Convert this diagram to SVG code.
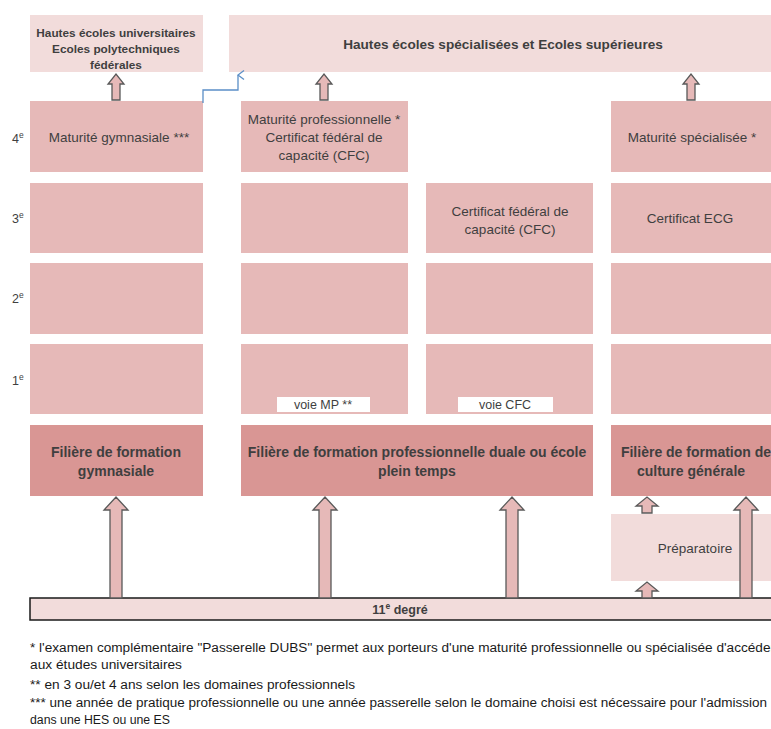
<svg xmlns="http://www.w3.org/2000/svg" width="771" height="729" viewBox="0 0 771 729">
<defs>
<style>
.top{fill:#f2dcdb}
.row{fill:#e6b9b8}
.fil{fill:#d99694}
.t{font-family:"Liberation Sans",Arial,sans-serif;fill:#3f3f3f;text-anchor:middle}
.r{font-size:13.5px}
.f{font-size:14px;font-weight:bold}
.b{font-weight:bold}
.lab{font-family:"Liberation Sans",Arial,sans-serif;fill:#3f3f3f;font-size:12.5px}
.fn{font-family:"Liberation Sans",Arial,sans-serif;fill:#1a1a1a;font-size:12.5px}
.arr{fill:#e6b9b8;stroke:#595959;stroke-width:1.3;stroke-linejoin:miter}
.voie{fill:#ffffff}
</style>
<marker id="blueHead" viewBox="0 0 12 12" refX="6" refY="1" markerWidth="12" markerHeight="12" markerUnits="userSpaceOnUse" orient="auto-start-reverse">
<path d="M1.5,7 L6,1 L10.5,7" fill="none" stroke="#5b8fc7" stroke-width="1.3"/>
</marker>
</defs>
<rect width="771" height="729" fill="#ffffff"/>

<g id="hes-universitaires">
<rect class="top" x="30" y="15" width="173" height="57"/>
<text class="t b" font-size="11.8" x="116" y="37">Hautes écoles universitaires</text>
<text class="t b" font-size="11.8" x="116" y="53">Ecoles polytechniques</text>
<text class="t b" font-size="11.8" x="116" y="69">fédérales</text>
</g>
<g id="hes-specialisees">
<rect class="top" x="229" y="15" width="542" height="57"/>
<text class="t b" font-size="13.6" x="503" y="49">Hautes écoles spécialisées et Ecoles supérieures</text>
</g>

<g id="annees">
<text class="lab" x="12" y="143">4<tspan font-size="8.5" dy="-5">e</tspan></text>
<text class="lab" x="12" y="223">3<tspan font-size="8.5" dy="-5">e</tspan></text>
<text class="lab" x="12" y="303">2<tspan font-size="8.5" dy="-5">e</tspan></text>
<text class="lab" x="12" y="385">1<tspan font-size="8.5" dy="-5">e</tspan></text>
</g>

<g id="col1">
<g id="maturite-gymnasiale">
<rect class="row" x="30" y="101" width="173" height="71"/>
<text class="t r" x="119" y="142">Maturité gymnasiale ***</text>
</g>
<rect class="row" x="30" y="183" width="173" height="70"/>
<rect class="row" x="30" y="263" width="173" height="71"/>
<rect class="row" x="30" y="344" width="173" height="70"/>
</g>

<g id="col2">
<g id="maturite-pro">
<rect class="row" x="241" y="101" width="167" height="71"/>
<text class="t r" x="324" y="124">Maturité professionnelle *</text>
<text class="t r" x="324" y="142">Certificat fédéral de</text>
<text class="t r" x="324" y="160">capacité (CFC)</text>
</g>
<rect class="row" x="241" y="183" width="167" height="70"/>
<rect class="row" x="241" y="263" width="167" height="71"/>
<g id="voie-mp">
<rect class="row" x="241" y="344" width="167" height="70"/>
<rect class="voie" x="277" y="397" width="93" height="15"/>
<text class="t" font-size="12.5" x="323" y="409">voie MP **</text>
</g>
</g>

<g id="col3">
<g id="cfc">
<rect class="row" x="426" y="183" width="167" height="70"/>
<text class="t r" x="510" y="216">Certificat fédéral de</text>
<text class="t r" x="510" y="234">capacité (CFC)</text>
</g>
<rect class="row" x="426" y="263" width="167" height="71"/>
<g id="voie-cfc">
<rect class="row" x="426" y="344" width="167" height="70"/>
<rect class="voie" x="458" y="397" width="95" height="15"/>
<text class="t" font-size="12.5" x="505" y="409">voie CFC</text>
</g>
</g>

<g id="col4">
<g id="maturite-specialisee">
<rect class="row" x="611" y="101" width="160" height="71"/>
<text class="t r" x="692" y="142">Maturité spécialisée *</text>
</g>
<g id="certificat-ecg">
<rect class="row" x="611" y="183" width="160" height="70"/>
<text class="t r" x="690" y="223">Certificat ECG</text>
</g>
<rect class="row" x="611" y="263" width="160" height="71"/>
<rect class="row" x="611" y="344" width="160" height="70"/>
</g>

<g id="filiere-gymnasiale">
<rect class="fil" x="30" y="425" width="173" height="71"/>
<text class="t f" x="116" y="457">Filière de formation</text>
<text class="t f" x="116" y="476">gymnasiale</text>
</g>
<g id="filiere-professionnelle">
<rect class="fil" x="241" y="425" width="352" height="71"/>
<text class="t f" x="417" y="457">Filière de formation professionnelle duale ou école</text>
<text class="t f" x="417" y="476">plein temps</text>
</g>
<g id="filiere-culture-generale">
<rect class="fil" x="611" y="425" width="160" height="71"/>
<text class="t f" x="696" y="457">Filière de formation de</text>
<text class="t f" x="691" y="476">culture générale</text>
</g>

<g id="preparatoire">
<rect class="top" x="611" y="514" width="160" height="67"/>
<text class="t" font-size="13.5" x="695" y="553">Préparatoire</text>
</g>

<g id="degre-11">
<rect x="30" y="598" width="745" height="22" fill="#f2dcdb" stroke="#1a1a1a" stroke-width="1.5"/>
<text class="t b" font-size="12.5" x="400" y="614" fill="#1a1a1a">11<tspan font-size="8.5" dy="-5">e</tspan><tspan dy="5"> degré</tspan></text>
</g>

<g id="connecteurs">
<path class="arr" d="M112,100 L112,84 L108,84 L116,74 L124,84 L120,84 L120,100 Z"/>
<path class="arr" d="M320,100 L320,84 L316,84 L324,74 L332,84 L328,84 L328,100 Z"/>
<path class="arr" d="M687,100 L687,84 L683,84 L691,74 L699,84 L695,84 L695,100 Z"/>
<path d="M203,103 L203,90 L238,90 L238,75" fill="none" stroke="#5b8fc7" stroke-width="1.3" marker-end="url(#blueHead)"/>
<path class="arr" d="M110,598 L110,510 L104,510 L116,497 L128,510 L122,510 L122,598 Z"/>
<path class="arr" d="M319,598 L319,510 L313,510 L325,497 L337,510 L331,510 L331,598 Z"/>
<path class="arr" d="M506,598 L506,510 L500,510 L512,497 L524,510 L518,510 L518,598 Z"/>
<path class="arr" d="M740,598 L740,510 L734,510 L746,497 L758,510 L752,510 L752,598 Z"/>
<path class="arr" d="M642,513 L642,506 L636,506 L647,497 L658,506 L652,506 L652,513 Z"/>
<path class="arr" d="M642,598 L642,591 L636,591 L647,582 L658,591 L652,591 L652,598 Z"/>
</g>

<g id="notes">
<text class="fn" x="30" y="652" textLength="745" lengthAdjust="spacingAndGlyphs">* l'examen complémentaire "Passerelle DUBS" permet aux porteurs d'une maturité professionnelle ou spécialisée d'accéder</text>
<text class="fn" x="30" y="669" textLength="152" lengthAdjust="spacingAndGlyphs">aux études universitaires</text>
<text class="fn" x="30" y="689" textLength="325" lengthAdjust="spacingAndGlyphs">** en 3 ou/et 4 ans selon les domaines professionnels</text>
<text class="fn" x="30" y="707" textLength="737" lengthAdjust="spacingAndGlyphs">*** une année de pratique professionnelle ou une année passerelle selon le domaine choisi est nécessaire pour l'admission</text>
<text class="fn" x="30" y="724" textLength="140" lengthAdjust="spacingAndGlyphs">dans une HES ou une ES</text>
</g>
</svg>
